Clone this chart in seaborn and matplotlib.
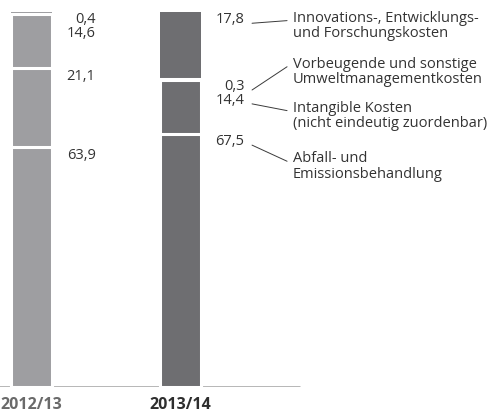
import numpy as np
import pandas as pd
import matplotlib.pyplot as plt
import seaborn as sns

# shares of environmental costs in %, listed bottom -> top of the stack
years = ["2012/13", "2013/14"]
categories = ["Abfall- und\nEmissionsbehandlung",
              "Intangible Kosten\n(nicht eindeutig zuordenbar)",
              "Vorbeugende und sonstige\nUmweltmanagementkosten",
              "Innovations-, Entwicklungs-\nund Forschungskosten"]
share_2012 = [63.9, 21.1, 14.6, 0.4]
share_2013 = [67.5, 14.4, 0.3, 17.8]

bar_colors = ["#9d9ea2", "#6d6e71"]
year_colors = ["#6a6a6a", "#2e2e2e"]
text_color = "#333333"
# top of each legend block (same units as the y axis)
legend_top = [62.8, 76.3, 88.0, 100.3]

sns.set_style("white")
plt.rcParams["font.family"] = ["Open Sans", "DejaVu Sans"]

df = pd.DataFrame({"year": np.repeat(years, len(categories)),
                   "category": categories * len(years),
                   "share": share_2012 + share_2013})
df["top"] = df.groupby("year")["share"].cumsum()

fig = plt.figure(figsize=(4.92, 4.16), dpi=100)
ax = fig.add_axes([0, 29 / 416, 1, 375 / 416])

# stacked bars: draw cumulative totals from the top segment down
for k in reversed(range(len(categories))):
    layer = df[df["category"] == categories[k]]
    sns.barplot(data=layer, x="year", y="top", hue="year", order=years,
                hue_order=years, palette=bar_colors, width=0.275,
                edgecolor="white", linewidth=0 if k == len(categories) - 1 else 2.2,
                legend=False, ax=ax, zorder=3)

ax.plot([-0.211, 1.802], [0, 0], color="#a3a3a3", lw=1.1, zorder=1)

# value labels, pushed down when segments are too thin
label_y = {}
for i, yr in enumerate(years):
    sub = df[df["year"] == yr]
    prev = None
    for k in reversed(range(len(categories))):
        row = sub.iloc[k]
        y = row["top"] - 2.1
        if prev is not None:
            y = min(y, prev - 3.7)
        prev = y
        label_y[(yr, k)] = y
        ax.text(i + 0.43, y, f"{row['share']:.1f}".replace(".", ","),
                ha="right", va="center", fontsize=10.5, color=text_color)

# legend with leader lines next to the latest bar
last = len(years) - 1
for k, cat in enumerate(categories):
    y0 = label_y[(years[last], k)] - 0.9
    y1 = legend_top[k] - 2.6
    ax.plot([last + 0.48, last + 0.715], [y0, y1], color="#3a3a3a", lw=0.7)
    ax.text(last + 0.755, legend_top[k], cat, ha="left", va="top",
            fontsize=10.5, color=text_color, linespacing=1.0)

ax.set_xlim(-0.211, 3.09)
ax.set_ylim(0, 100)
ax.set_yticks([])
ax.set_xticks([0, 1], years)
ax.tick_params(axis="x", length=0, pad=7)
for lbl, c in zip(ax.get_xticklabels(), year_colors):
    lbl.set_fontweight("bold")
    lbl.set_fontsize(11.5)
    lbl.set_color(c)
ax.set_xlabel("")
ax.set_ylabel("")
sns.despine(left=True, bottom=True)

fig.savefig("out.png", dpi=100)
